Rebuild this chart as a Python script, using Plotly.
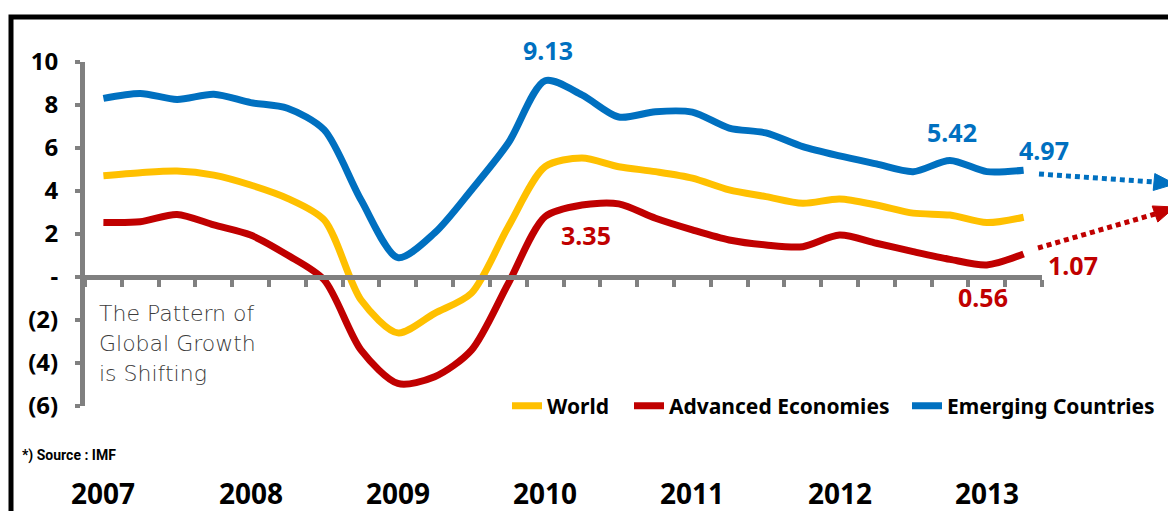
import plotly.graph_objects as go

# quarterly GDP growth (%), 2007Q1 .. 2013Q2
quarters = [f"{y}Q{q}" for y in range(2007, 2014) for q in range(1, 5)][:26]

world = [4.71, 4.85, 4.93, 4.74, 4.28, 3.66, 2.65, -1.07, -2.60, -1.69,
         -0.75, 2.34, 5.13, 5.53, 5.13, 4.90, 4.60, 4.05, 3.74, 3.43,
         3.63, 3.35, 2.97, 2.88, 2.53, 2.78]
advanced = [2.54, 2.57, 2.91, 2.42, 1.95, 1.02, -0.14, -3.40, -4.95, -4.64,
            -3.40, -0.30, 2.81, 3.35, 3.40, 2.73, 2.19, 1.72, 1.49, 1.41,
            1.95, 1.57, 1.18, 0.82, 0.56, 1.07]
emerging = [8.31, 8.54, 8.26, 8.50, 8.11, 7.85, 6.84, 3.58, 0.90, 2.05,
            4.05, 6.23, 9.13, 8.47, 7.44, 7.69, 7.67, 6.93, 6.70, 6.06,
            5.63, 5.26, 4.90, 5.42, 4.90, 4.97]

years = ["2007", "2008", "2009", "2010", "2011", "2012", "2013"]
y_ticks = [10, 8, 6, 4, 2, 0, -2, -4, -6]
y_ticktext = ["10", "8", "6", "4", "2", "-", "(2)", "(4)", "(6)"]
note_lines = ["The Pattern of", "Global Growth", "is Shifting"]

# labelled points: (series, quarter index, xshift, yshift)
callouts = [
    ("emerging", 12, 3, 31),
    ("emerging", 23, 2, 28),
    ("emerging", 25, 20, 20),
    ("advanced", 13, 4, -30),
    ("advanced", 24, -4, -32),
    ("advanced", 25, 49, -11),
]

YELLOW = "#FFC000"
RED = "#C00000"
BLUE = "#0070C0"
GRAY = "#808080"
FONT = "Noto Sans"

# page body has an 8px margin, so the figure is drawn 8px in from the corner
OFF = 8
W, H = 1176 - OFF, 511 - OFF
L, R, T, B = 85 - OFF, 134, 62 - OFF, 105


def px_to_paper(px, py):
    # screen pixel -> paper fraction
    fx, fy = px - OFF, py - OFF
    return (fx - L) / (W - L - R), (H - B - fy) / (H - T - B)


series = {"world": world, "advanced": advanced, "emerging": emerging}
colors = {"world": YELLOW, "advanced": RED, "emerging": BLUE}
legend_ref = {"world": "legend", "advanced": "legend2", "emerging": "legend3"}

fig = go.Figure()

for key, name in [("world", "World"), ("advanced", "Advanced Economies"),
                  ("emerging", "Emerging Countries")]:
    fig.add_trace(
        go.Scatter(
            x=quarters,
            y=series[key],
            name=name,
            mode="lines",
            line=dict(color=colors[key], width=7, shape="spline", smoothing=0.8),
            legend=legend_ref[key],
            hoverinfo="skip",
        )
    )

annotations = []
for key, idx, dx, dy in callouts:
    annotations.append(
        dict(
            x=quarters[idx], y=series[key][idx], xref="x", yref="y",
            text=f"{series[key][idx]:.2f}", showarrow=False,
            xshift=dx, yshift=dy,
            font=dict(family=FONT, size=25, color=colors[key], weight="bold"),
        )
    )

yr_y = px_to_paper(0, 493)[1]
for yr in years:
    annotations.append(
        dict(
            x=f"{yr}Q1", y=yr_y, xref="x", yref="paper", text=yr,
            showarrow=False, yanchor="middle",
            font=dict(family=FONT, size=28, color="black", weight="bold"),
        )
    )

sx, sy = px_to_paper(20, 455)
annotations.append(
    dict(x=sx, y=sy, xref="paper", yref="paper", xanchor="left",
         yanchor="middle", text="*) Source : IMF", showarrow=False,
         font=dict(family="Liberation Sans Narrow, Roboto", size=14,
                   color="black", weight="bold"))
)

for i, line in enumerate(note_lines):
    tx, ty = px_to_paper(97, 313 + 30 * i)
    annotations.append(
        dict(x=tx, y=ty, xref="paper", yref="paper", xanchor="left",
             yanchor="middle", text=line, showarrow=False,
             font=dict(family="DejaVu Sans", size=22, color="#3c3c3c",
                       weight=200))
    )

shapes = []
# outer frame
fx0, fy0 = px_to_paper(11, 17)
fx1, fy1 = px_to_paper(1210, 560)
shapes.append(dict(type="rect", xref="paper", yref="paper",
                   x0=fx0, y0=fy0, x1=fx1, y1=fy1, opacity=1,
                   fillcolor="rgba(0,0,0,0)",
                   line=dict(color="black", width=5)))

# dotted outlook arrows
for color, start, end, tip, wing in [
    (BLUE, (1039, 174), (1154, 182), (1175, 184), 8.5),
    (RED, (1038, 248), (1155, 214), (1175, 207), 8.5),
]:
    x0, y0 = px_to_paper(*start)
    x1, y1 = px_to_paper(*end)
    shapes.append(dict(type="line", xref="paper", yref="paper",
                       x0=x0, y0=y0, x1=x1, y1=y1, opacity=1,
                       line=dict(color=color, width=5, dash="5px,4px")))
    # triangle head in pixels
    dxp, dyp = tip[0] - end[0], tip[1] - end[1]
    n = (dxp ** 2 + dyp ** 2) ** 0.5
    ux, uy = dxp / n, dyp / n
    bx, by = end[0], end[1]
    p1 = px_to_paper(tip[0], tip[1])
    p2 = px_to_paper(bx - uy * wing, by + ux * wing)
    p3 = px_to_paper(bx + uy * wing, by - ux * wing)
    path = f"M {p1[0]} {p1[1]} L {p2[0]} {p2[1]} L {p3[0]} {p3[1]} Z"
    shapes.append(dict(type="path", xref="paper", yref="paper", path=path,
                       opacity=1, fillcolor=color,
                       line=dict(color=color, width=1)))


def legend_at(px):
    lx, ly = px_to_paper(px, 406)
    return dict(
        orientation="h",
        x=lx, y=ly,
        xanchor="left", yanchor="middle",
        bgcolor="rgba(0,0,0,0)",
        font=dict(family=FONT, size=21, color="black", weight="bold"),
        itemwidth=30,
    )


fig.update_layout(
    width=W,
    height=H,
    template="simple_white",
    plot_bgcolor="white",
    paper_bgcolor="white",
    margin=dict(l=L, r=R, t=T, b=B),
    showlegend=True,
    legend=legend_at(507),
    legend2=legend_at(629),
    legend3=legend_at(907),
    annotations=annotations,
    shapes=shapes,
)

fig.update_xaxes(
    type="category",
    range=[-0.5, 25.5],
    anchor="free",
    position=6 / 16,
    showline=True,
    linecolor=GRAY,
    linewidth=5,
    ticks="outside",
    tickson="boundaries",
    ticklen=7,
    tickwidth=4,
    tickcolor=GRAY,
    showticklabels=False,
    showgrid=False,
    zeroline=False,
)

fig.update_yaxes(
    range=[-6, 10],
    tickvals=y_ticks,
    ticktext=y_ticktext,
    showline=True,
    linecolor=GRAY,
    linewidth=5,
    ticks="outside",
    ticklen=5,
    tickwidth=4,
    tickcolor=GRAY,
    tickfont=dict(family=FONT, size=24, color="black", weight="bold"),
    ticklabelstandoff=12,
    showgrid=False,
    zeroline=False,
)

fig.write_html("out.html")
